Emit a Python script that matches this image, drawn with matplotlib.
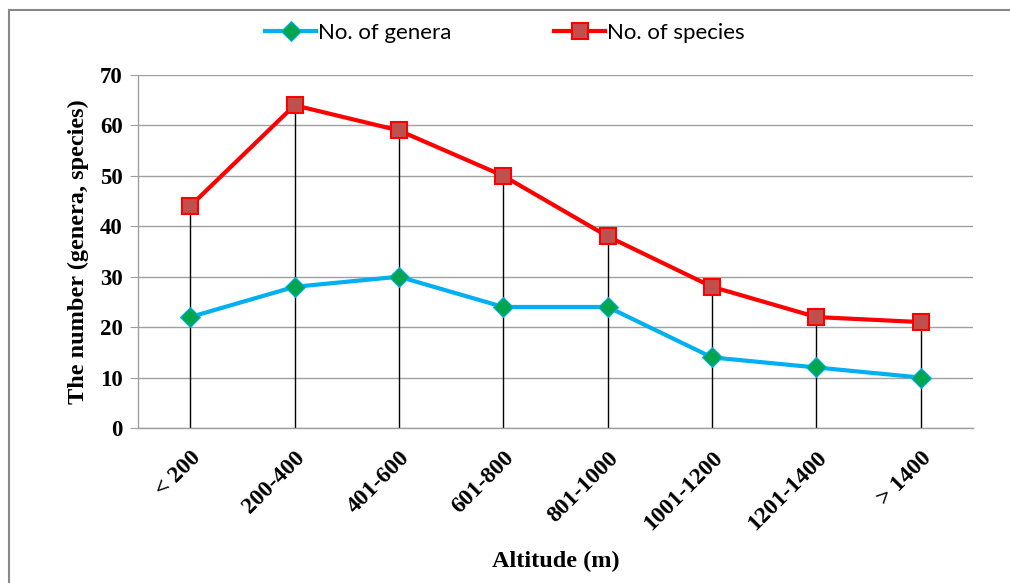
import matplotlib.pyplot as plt
from matplotlib.patches import Rectangle

altitude = ["< 200", "200-400", "401-600", "601-800", "801-1000", "1001-1200", "1201-1400", "> 1400"]
genera = [22, 28, 30, 24, 24, 14, 12, 10]
species = [44, 64, 59, 50, 38, 28, 22, 21]
yticks = [0, 10, 20, 30, 40, 50, 60, 70]

serif = "Liberation Serif"

fig = plt.figure(figsize=(10.1, 5.83), dpi=100)
ax = fig.add_axes([138 / 1010, 1 - 428 / 583, (973 - 138) / 1010, (428 - 75) / 583])

x = list(range(len(altitude)))

# drop lines from species down to the axis
ax.vlines(x, 0, species, colors="black", linewidth=1, zorder=2)

ax.plot(x, genera, color="#00B0F0", linewidth=3, marker="D", markersize=10,
        markerfacecolor="#00A550", markeredgecolor="#00B0F0", markeredgewidth=0.8,
        label="No. of genera", zorder=3)
ax.plot(x, species, color="#FF0000", linewidth=3, marker="s", markersize=12,
        markerfacecolor="#C0504D", markeredgecolor="#FF0000", markeredgewidth=1.5,
        label="No. of species", zorder=4)

ax.set_xlim(-0.5, len(altitude) - 0.5)
ax.set_ylim(0, 70)
ax.set_yticks(yticks)
ax.set_xticks(x)
ax.set_xticklabels(altitude, rotation=45, ha="right", rotation_mode="anchor",
                   fontfamily=serif, fontweight="bold", fontsize=17)
for lab in ax.get_yticklabels():
    lab.set_fontfamily(serif)
    lab.set_fontweight("bold")
    lab.set_fontsize(16.5)

ax.grid(axis="y", color="#a0a0a0", linewidth=1)
ax.set_axisbelow(True)
for s in ["top", "right"]:
    ax.spines[s].set_visible(False)
for s in ["left", "bottom"]:
    ax.spines[s].set_color("#a0a0a0")
    ax.spines[s].set_linewidth(1)
ax.tick_params(axis="y", length=6, color="#a0a0a0", pad=5)
ax.tick_params(axis="x", length=0, pad=14)

ax.set_xlabel("Altitude (m)", fontfamily=serif, fontweight="bold", fontsize=17.5, labelpad=12)
ax.set_ylabel("The number (genera, species)", fontfamily=serif, fontweight="bold", fontsize=17.5, labelpad=8)

fig.legend(loc="center", bbox_to_anchor=(0.5, 1 - 33 / 583), ncol=2, frameon=False,
           prop={"family": "Lato", "size": 16}, handlelength=2.3, columnspacing=4.6, handletextpad=0.1)

fig.patches.append(Rectangle((9 / 1010, -0.1), 1.2, 1 - 10 / 583 + 0.1, transform=fig.transFigure,
                             fill=False, edgecolor="#888888", linewidth=1.5))

fig.savefig("out.png", dpi=100)
